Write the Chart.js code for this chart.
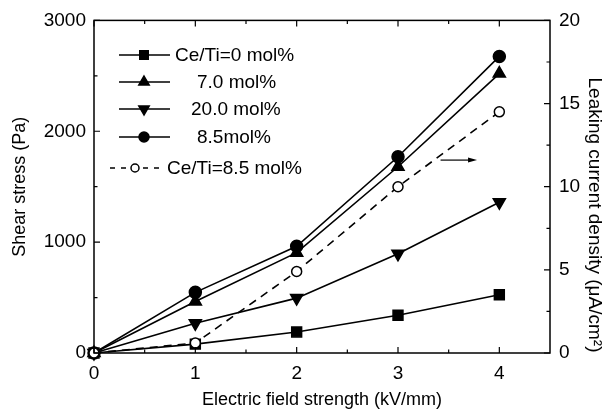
<!DOCTYPE html>
<html>
<head>
<meta charset="utf-8">
<script src="https://cdn.jsdelivr.net/npm/chart.js@4/dist/chart.umd.min.js"></script>
<style>
  html, body { margin: 0; padding: 0; background: #fff; }
  #wrap { width: 609px; height: 411px; position: relative; }
</style>
</head>
<body>
<div id="wrap"><canvas id="grafica"></canvas></div>
<script>
// datos
var campo = [0, 1, 2, 3, 4]; // kV/mm
var esfuerzo_0 = [0, 80, 190, 340, 525];     // Pa, Ce/Ti=0 mol%
var esfuerzo_7 = [0, 465, 905, 1680, 2520];  // Pa, 7.0 mol%
var esfuerzo_20 = [0, 268, 495, 895, 1360];  // Pa, 20.0 mol%
var esfuerzo_85 = [0, 547, 962, 1770, 2675]; // Pa, 8.5 mol%
var corriente_85 = [0, 0.6, 4.9, 10.0, 14.5]; // uA/cm2, Ce/Ti=8.5 mol%

var etiquetas = ["Ce/Ti=0 mol%", "7.0 mol%", "20.0 mol%", "8.5mol%", "Ce/Ti=8.5 mol%"];

var ticks_x = [0, 1, 2, 3, 4];
var ticks_x_menores = [0.5, 1.5, 2.5, 3.5];
var ticks_y = [0, 1000, 2000, 3000];
var ticks_y_menores = [500, 1500, 2500];
var ticks_y2 = [0, 5, 10, 15, 20];
var ticks_y2_menores = [2.5, 7.5, 12.5, 17.5];

var flecha_x = [3.42, 3.78]; // flecha que apunta al eje derecho
var flecha_y = 11.6;

var fuente = "'Liberation Sans', Arial, sans-serif";

function puntos(ys) {
    var res = [];
    for (var i = 0; i < campo.length; i++) res.push({x: campo[i], y: ys[i]});
    return res;
}

// dibuja un marcador como los de la grafica (para la leyenda)
function marcador(ctx, estilo, x, y, r, rot, relleno) {
    ctx.save();
    ctx.translate(x, y);
    ctx.rotate(rot * Math.PI / 180);
    ctx.beginPath();
    if (estilo == 'rect') {
        var s = r * Math.SQRT1_2;
        ctx.rect(-s, -s, 2 * s, 2 * s);
    } else if (estilo == 'triangle') {
        ctx.moveTo(0, -r);
        ctx.lineTo(r * 0.866, r * 0.5);
        ctx.lineTo(-r * 0.866, r * 0.5);
        ctx.closePath();
    } else {
        ctx.arc(0, 0, r, 0, Math.PI * 2);
    }
    ctx.fillStyle = relleno;
    ctx.fill();
    ctx.lineWidth = 1.5;
    ctx.strokeStyle = '#000';
    ctx.stroke();
    ctx.restore();
}

var series = [
    {label: etiquetas[0], data: puntos(esfuerzo_0), yAxisID: 'y', pointStyle: 'rect', pointRadius: 7, pointRotation: 0,
     backgroundColor: '#000', pointBackgroundColor: '#000'},
    {label: etiquetas[1], data: puntos(esfuerzo_7), yAxisID: 'y', pointStyle: 'triangle', pointRadius: 7, pointRotation: 0,
     backgroundColor: '#000', pointBackgroundColor: '#000'},
    {label: etiquetas[2], data: puntos(esfuerzo_20), yAxisID: 'y', pointStyle: 'triangle', pointRadius: 7, pointRotation: 180,
     backgroundColor: '#000', pointBackgroundColor: '#000'},
    {label: etiquetas[3], data: puntos(esfuerzo_85), yAxisID: 'y', pointStyle: 'circle', pointRadius: 6, pointRotation: 0,
     backgroundColor: '#000', pointBackgroundColor: '#000'},
    {label: etiquetas[4], data: puntos(corriente_85), yAxisID: 'y2', pointStyle: 'circle', pointRadius: 5, pointRotation: 0,
     backgroundColor: '#fff', pointBackgroundColor: '#fff', borderDash: [8, 6]}
];
series.forEach(function(s) {
    s.borderColor = '#000';
    s.pointBorderColor = '#000';
    s.borderWidth = 1.6;
    s.pointBorderWidth = 1.5;
    s.showLine = true;
    s.tension = 0;
    s.clip = false;
});
// la serie abierta se dibuja encima
series[4].order = -1;

var pluginMarco = {
    id: 'marco',
    afterDraw: function(chart) {
        var ctx = chart.ctx;
        var a = chart.chartArea;
        var sx = chart.scales.x, sy = chart.scales.y, sy2 = chart.scales.y2;
        ctx.save();
        ctx.strokeStyle = '#000';
        ctx.lineWidth = 1.5;
        ctx.strokeRect(a.left, a.top, a.right - a.left, a.bottom - a.top);

        ctx.lineWidth = 1.2;
        ctx.beginPath();
        // ticks hacia adentro
        function tx(vals, largo) {
            vals.forEach(function(v) {
                var p = sx.getPixelForValue(v);
                ctx.moveTo(p, a.bottom); ctx.lineTo(p, a.bottom - largo);
                ctx.moveTo(p, a.top); ctx.lineTo(p, a.top + largo);
            });
        }
        function ty(esc, vals, largo, izq) {
            vals.forEach(function(v) {
                var p = esc.getPixelForValue(v);
                if (izq) { ctx.moveTo(a.left, p); ctx.lineTo(a.left + largo, p); }
                else { ctx.moveTo(a.right, p); ctx.lineTo(a.right - largo, p); }
            });
        }
        tx(ticks_x, 6); tx(ticks_x_menores, 3.5);
        ty(sy, ticks_y, 6, true); ty(sy, ticks_y_menores, 3.5, true);
        ty(sy2, ticks_y2, 6, false); ty(sy2, ticks_y2_menores, 3.5, false);
        ctx.stroke();

        // flecha hacia el eje derecho
        var fx0 = sx.getPixelForValue(flecha_x[0]);
        var fx1 = sx.getPixelForValue(flecha_x[1]);
        var fy = sy2.getPixelForValue(flecha_y);
        ctx.lineWidth = 1.2;
        ctx.beginPath();
        ctx.moveTo(fx0, fy); ctx.lineTo(fx1 - 6, fy);
        ctx.stroke();
        ctx.beginPath();
        ctx.moveTo(fx1, fy); ctx.lineTo(fx1 - 9, fy - 2.5); ctx.lineTo(fx1 - 9, fy + 2.5);
        ctx.closePath();
        ctx.fillStyle = '#000';
        ctx.fill();

        // leyenda
        var filas = [55, 82, 109, 137, 168];
        var textoX = [175, 197, 191, 197, 167];
        ctx.font = '19px ' + fuente;
        ctx.textBaseline = 'middle';
        ctx.textAlign = 'left';
        ctx.fillStyle = '#000';
        for (var i = 0; i < 5; i++) {
            var ds = chart.data.datasets[i];
            var y = filas[i];
            ctx.lineWidth = 1.6;
            ctx.beginPath();
            if (i < 4) {
                ctx.setLineDash([]);
                ctx.moveTo(119, y); ctx.lineTo(170, y);
            } else {
                ctx.setLineDash([5, 6]);
                ctx.moveTo(110, y); ctx.lineTo(163, y);
            }
            ctx.stroke();
            ctx.setLineDash([]);
            var mx = i < 4 ? 144 : 135;
            var r = i < 4 ? ds.pointRadius - 1 : 4;
            marcador(ctx, ds.pointStyle, mx, y, r, ds.pointRotation, ds.pointBackgroundColor);
            ctx.fillStyle = '#000';
            ctx.fillText(ds.label, textoX[i], y + 1);
        }

        // titulos de ejes
        ctx.font = '18px ' + fuente;
        ctx.textAlign = 'center';
        ctx.textBaseline = 'middle';
        ctx.fillText('Electric field strength (kV/mm)', (a.left + a.right) / 2, 400);
        ctx.save();
        ctx.translate(20, (a.top + a.bottom) / 2);
        ctx.rotate(-Math.PI / 2);
        ctx.fillText('Shear stress (Pa)', 0, 0);
        ctx.restore();
        ctx.save();
        ctx.font = '19px ' + fuente;
        ctx.translate(594, 215);
        ctx.rotate(Math.PI / 2);
        ctx.fillText('Leaking current density (\u03bcA/cm\u00b2)', 0, 0);
        ctx.restore();
        ctx.restore();
    }
};

var ctx = document.getElementById('grafica');
var grafica = new Chart(ctx, {
    type: 'scatter',
    data: { datasets: series },
    options: {
        responsive: true,
        maintainAspectRatio: false,
        animation: false,
        layout: { padding: { top: 18, left: 0, right: 0, bottom: 0 } },
        plugins: { legend: { display: false }, tooltip: { enabled: false } },
        scales: {
            x: {
                type: 'linear', position: 'bottom', min: 0, max: 4.5,
                grid: { display: false, drawTicks: false },
                border: { display: false },
                ticks: {
                    stepSize: 1, padding: 9, color: '#000', maxRotation: 0,
                    font: { size: 19, family: fuente },
                    callback: function(v) { return ticks_x.indexOf(v) >= 0 ? String(v) : ''; }
                },
                afterFit: function(s) { s.height = 58; }
            },
            y: {
                type: 'linear', position: 'left', min: 0, max: 3000,
                grid: { display: false, drawTicks: false },
                border: { display: false },
                ticks: {
                    stepSize: 1000, padding: 8, color: '#000',
                    font: { size: 19, family: fuente },
                    callback: function(v) { return String(v); }
                },
                afterFit: function(s) { s.width = 94; }
            },
            y2: {
                type: 'linear', position: 'right', min: 0, max: 20,
                grid: { display: false, drawTicks: false },
                border: { display: false },
                ticks: {
                    stepSize: 5, padding: 9, color: '#000',
                    font: { size: 19, family: fuente },
                    callback: function(v) { return String(v); }
                },
                afterFit: function(s) { s.width = 59; }
            }
        }
    },
    plugins: [pluginMarco]
});
</script>
</body>
</html>
